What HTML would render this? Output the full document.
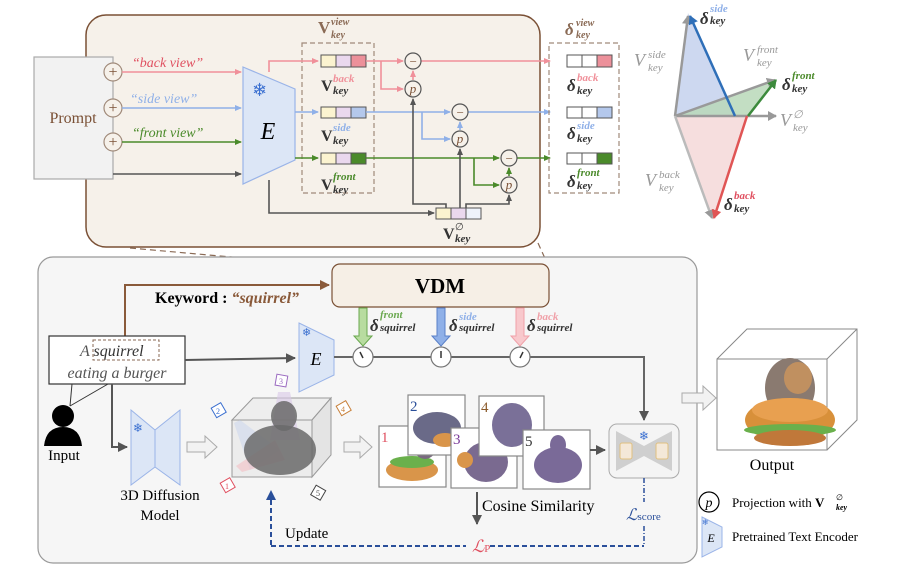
<!DOCTYPE html>
<html><head><meta charset="utf-8"><style>
html,body{margin:0;padding:0;background:#fff;}
svg{display:block;font-family:"Liberation Serif",serif;}
</style></head><body>
<svg width="897" height="570" viewBox="0 0 897 570" xmlns="http://www.w3.org/2000/svg">
<defs>
<marker id="ap" markerWidth="8" markerHeight="8" refX="6" refY="4" orient="auto" markerUnits="userSpaceOnUse"><path d="M0,1 L7,4 L0,7 z" fill="#f0909a"/></marker>
<marker id="ab" markerWidth="8" markerHeight="8" refX="6" refY="4" orient="auto" markerUnits="userSpaceOnUse"><path d="M0,1 L7,4 L0,7 z" fill="#8fb0e8"/></marker>
<marker id="ag" markerWidth="8" markerHeight="8" refX="6" refY="4" orient="auto" markerUnits="userSpaceOnUse"><path d="M0,1 L7,4 L0,7 z" fill="#4a8a2a"/></marker>
<marker id="ad" markerWidth="8" markerHeight="8" refX="6" refY="4" orient="auto" markerUnits="userSpaceOnUse"><path d="M0,1 L7,4 L0,7 z" fill="#555"/></marker>
<marker id="adb" markerWidth="12" markerHeight="12" refX="9" refY="6" orient="auto" markerUnits="userSpaceOnUse"><path d="M0,1 L10,6 L0,11 z" fill="#555"/></marker>
<marker id="abr" markerWidth="12" markerHeight="12" refX="9" refY="6" orient="auto" markerUnits="userSpaceOnUse"><path d="M0,1 L10,6 L0,11 z" fill="#8a5a3a"/></marker>
<marker id="anv" markerWidth="12" markerHeight="12" refX="9" refY="6" orient="auto" markerUnits="userSpaceOnUse"><path d="M0,1 L10,6 L0,11 z" fill="#2a4f9a"/></marker>
<marker id="tg" markerWidth="10" markerHeight="10" refX="8" refY="5" orient="auto" markerUnits="userSpaceOnUse"><path d="M0,0 L9,5 L0,10 z" fill="#999"/></marker>
<marker id="tb" markerWidth="10" markerHeight="10" refX="8" refY="5" orient="auto" markerUnits="userSpaceOnUse"><path d="M0,0 L9,5 L0,10 z" fill="#2f6fb8"/></marker>
<marker id="tgr" markerWidth="10" markerHeight="10" refX="8" refY="5" orient="auto" markerUnits="userSpaceOnUse"><path d="M0,0 L9,5 L0,10 z" fill="#3c8a3c"/></marker>
<marker id="tr" markerWidth="10" markerHeight="10" refX="8" refY="5" orient="auto" markerUnits="userSpaceOnUse"><path d="M0,0 L9,5 L0,10 z" fill="#e05555"/></marker>
</defs>

<rect x="86" y="15" width="454" height="232" rx="20" fill="#f6f1ea" stroke="#7a5035" stroke-width="1.5"/>
<line x1="130" y1="248" x2="332" y2="266" stroke="#8a6a55" stroke-dasharray="6,4" stroke-width="1.2"/>
<line x1="538" y1="243" x2="548" y2="265" stroke="#8a6a55" stroke-dasharray="6,4" stroke-width="1.2"/>

<rect x="34" y="57" width="79" height="122" fill="#f2f2f2" stroke="#aaa" stroke-width="1.2"/>
<text x="73" y="123" font-size="16" fill="#7a5035" text-anchor="middle">Prompt</text>
<g fill="#f6f1ea" stroke="#a08a7a" stroke-width="1.2">
<circle cx="113" cy="72" r="9"/><circle cx="113" cy="108" r="9"/><circle cx="113" cy="142" r="9"/></g>
<g fill="#7a5035" font-size="16" text-anchor="middle"><text x="113" y="77">+</text><text x="113" y="113">+</text><text x="113" y="147">+</text></g>

<line x1="122" y1="72" x2="241" y2="72" stroke="#f0909a" stroke-width="1.6" marker-end="url(#ap)"/>
<line x1="122" y1="108" x2="241" y2="108" stroke="#8fb0e8" stroke-width="1.6" marker-end="url(#ab)"/>
<line x1="122" y1="142" x2="241" y2="142" stroke="#4a8a2a" stroke-width="1.6" marker-end="url(#ag)"/>
<line x1="113" y1="174" x2="241" y2="174" stroke="#555" stroke-width="1.6" marker-end="url(#ad)"/>
<g font-size="14" font-style="italic">
<text x="132" y="67" fill="#e05060">“back view”</text>
<text x="130" y="103" fill="#8fb0e8">“side view”</text>
<text x="132" y="137" fill="#4a8a2a">“front view”</text></g>

<path d="M243,67 L295,89 L295,160 L243,184 z" fill="#dce6f6" stroke="#9ab4e8" stroke-width="1.2"/>
<text x="252" y="96" font-size="18" fill="#3a6fd0" font-family="DejaVu Sans,sans-serif">❄</text>
<text x="268" y="139" font-size="24" font-style="italic" text-anchor="middle">E</text>

<rect x="302" y="43" width="72" height="150" fill="none" stroke="#a08a7a" stroke-dasharray="5,3" stroke-width="1.2"/>
<text x="318" y="33" font-size="17" font-weight="bold" fill="#8a6a55">V</text>
<text x="331" y="25" font-size="10" font-weight="bold" font-style="italic" fill="#8a6a55">view</text>
<text x="331" y="38" font-size="10" font-weight="bold" font-style="italic" fill="#8a6a55">key</text>

<polyline points="269,72 269,61 318,61" fill="none" stroke="#f0909a" stroke-width="1.6" marker-end="url(#ap)"/>
<line x1="295" y1="112" x2="318" y2="112" stroke="#8fb0e8" stroke-width="1.6" marker-end="url(#ab)"/>
<line x1="295" y1="158" x2="318" y2="158" stroke="#4a8a2a" stroke-width="1.6" marker-end="url(#ag)"/>

<g stroke="#555" stroke-width="1">
<rect x="321" y="55" width="15" height="12" fill="#fbf3d0"/><rect x="336" y="55" width="15" height="12" fill="#ead8ee"/><rect x="351" y="55" width="15" height="12" fill="#ec909a"/>
<rect x="321" y="107" width="15" height="11" fill="#fbf3d0"/><rect x="336" y="107" width="15" height="11" fill="#ead8ee"/><rect x="351" y="107" width="15" height="11" fill="#b4c8ec"/>
<rect x="321" y="153" width="15" height="11" fill="#fbf3d0"/><rect x="336" y="153" width="15" height="11" fill="#ead8ee"/><rect x="351" y="153" width="15" height="11" fill="#4a8a2a"/>
</g>
<g font-weight="bold">
<text x="321" y="91" font-size="16" fill="#333">V</text><text x="333" y="82" font-size="11" font-style="italic" fill="#f0909a">back</text><text x="333" y="94" font-size="11" font-style="italic" fill="#333">key</text>
<text x="321" y="141" font-size="16" fill="#333">V</text><text x="333" y="131" font-size="11" font-style="italic" fill="#8fb0e8">side</text><text x="333" y="144" font-size="11" font-style="italic" fill="#333">key</text>
<text x="321" y="190" font-size="16" fill="#333">V</text><text x="333" y="180" font-size="11" font-style="italic" fill="#4a8a2a">front</text><text x="333" y="193" font-size="11" font-style="italic" fill="#333">key</text>
</g>

<line x1="366" y1="61" x2="403" y2="61" stroke="#f0909a" stroke-width="1.6" marker-end="url(#ap)"/>
<polyline points="381,61 381,89 403,89" fill="none" stroke="#f0909a" stroke-width="1.6" marker-end="url(#ap)"/>
<line x1="413" y1="80" x2="413" y2="71" stroke="#f0909a" stroke-width="1.6" marker-end="url(#ap)"/>
<line x1="421" y1="61" x2="550" y2="61" stroke="#f0909a" stroke-width="1.6" marker-end="url(#ap)"/>

<line x1="366" y1="112" x2="450" y2="112" stroke="#8fb0e8" stroke-width="1.6" marker-end="url(#ab)"/>
<polyline points="422,112 422,139 450,139" fill="none" stroke="#8fb0e8" stroke-width="1.6" marker-end="url(#ab)"/>
<line x1="460" y1="130" x2="460" y2="122" stroke="#8fb0e8" stroke-width="1.6" marker-end="url(#ab)"/>
<line x1="468" y1="112" x2="550" y2="112" stroke="#8fb0e8" stroke-width="1.6" marker-end="url(#ab)"/>

<line x1="366" y1="158" x2="499" y2="158" stroke="#4a8a2a" stroke-width="1.6" marker-end="url(#ag)"/>
<polyline points="474,158 474,185 499,185" fill="none" stroke="#4a8a2a" stroke-width="1.6" marker-end="url(#ag)"/>
<line x1="509" y1="176" x2="509" y2="168" stroke="#4a8a2a" stroke-width="1.6" marker-end="url(#ag)"/>
<line x1="517" y1="158" x2="550" y2="158" stroke="#4a8a2a" stroke-width="1.6" marker-end="url(#ag)"/>

<polyline points="269,180 269,213 434,213" fill="none" stroke="#555" stroke-width="1.6" marker-end="url(#ad)"/>
<polyline points="446,208 446,204 413,204 413,99" fill="none" stroke="#555" stroke-width="1.6" marker-end="url(#ad)"/>
<line x1="460" y1="208" x2="460" y2="149" stroke="#555" stroke-width="1.6" marker-end="url(#ad)"/>
<polyline points="466,208 466,204 509,204 509,195" fill="none" stroke="#555" stroke-width="1.6" marker-end="url(#ad)"/>

<g fill="#f6f1ea" stroke="#555" stroke-width="1.2">
<circle cx="413" cy="61" r="8"/><circle cx="413" cy="89" r="8"/>
<circle cx="460" cy="112" r="8"/><circle cx="460" cy="139" r="8"/>
<circle cx="509" cy="158" r="8"/><circle cx="509" cy="185" r="8"/></g>
<g fill="#7a5035" font-size="13" text-anchor="middle" font-style="italic">
<text x="413" y="66">−</text><text x="413" y="93">p</text>
<text x="460" y="117">−</text><text x="460" y="143">p</text>
<text x="509" y="163">−</text><text x="509" y="189">p</text></g>

<g stroke="#555" stroke-width="1">
<rect x="436" y="208" width="15" height="11" fill="#fbf3d0"/><rect x="451" y="208" width="15" height="11" fill="#ead8ee"/><rect x="466" y="208" width="15" height="11" fill="#eef2fa"/></g>
<text x="443" y="239" font-size="16" font-weight="bold" fill="#333">V</text><text x="455" y="230" font-size="10" fill="#333">∅</text><text x="455" y="242" font-size="11" font-weight="bold" font-style="italic" fill="#333">key</text>

<rect x="549" y="43" width="70" height="150" fill="none" stroke="#a08a7a" stroke-dasharray="5,3" stroke-width="1.2"/>
<text x="565" y="35" font-size="17" font-weight="bold" font-style="italic" fill="#8a6a55">δ</text>
<text x="576" y="26" font-size="10" font-weight="bold" font-style="italic" fill="#8a6a55">view</text>
<text x="576" y="38" font-size="10" font-weight="bold" font-style="italic" fill="#8a6a55">key</text>
<g stroke="#555" stroke-width="1">
<rect x="567" y="55" width="15" height="12" fill="#fff"/><rect x="582" y="55" width="15" height="12" fill="#fff"/><rect x="597" y="55" width="15" height="12" fill="#ec909a"/>
<rect x="567" y="107" width="15" height="11" fill="#fff"/><rect x="582" y="107" width="15" height="11" fill="#fff"/><rect x="597" y="107" width="15" height="11" fill="#b4c8ec"/>
<rect x="567" y="153" width="15" height="11" fill="#fff"/><rect x="582" y="153" width="15" height="11" fill="#fff"/><rect x="597" y="153" width="15" height="11" fill="#4a8a2a"/></g>
<g font-weight="bold">
<text x="567" y="91" font-size="17" font-style="italic" fill="#333">δ</text><text x="577" y="81" font-size="11" font-style="italic" fill="#f0909a">back</text><text x="577" y="94" font-size="11" font-style="italic" fill="#333">key</text>
<text x="567" y="139" font-size="17" font-style="italic" fill="#333">δ</text><text x="577" y="129" font-size="11" font-style="italic" fill="#8fb0e8">side</text><text x="577" y="142" font-size="11" font-style="italic" fill="#333">key</text>
<text x="567" y="187" font-size="17" font-style="italic" fill="#333">δ</text><text x="577" y="176" font-size="11" font-style="italic" fill="#4a8a2a">front</text><text x="577" y="189" font-size="11" font-style="italic" fill="#333">key</text>
</g>

<polygon points="675,116 688,13 735,116" fill="#c8d4ee" opacity="0.9"/>
<polygon points="675,116 777,79 748,116" fill="#b8d8b8" opacity="0.85"/>
<polygon points="675,116 713,220 747,116" fill="#f6dede"/>
<line x1="675" y1="116" x2="688" y2="16" stroke="#999" stroke-width="2.5" marker-end="url(#tg)"/>
<line x1="675" y1="116" x2="775" y2="80" stroke="#999" stroke-width="2.5" marker-end="url(#tg)"/>
<line x1="675" y1="116" x2="776" y2="116" stroke="#999" stroke-width="2.5" marker-end="url(#tg)"/>
<line x1="675" y1="116" x2="712" y2="218" stroke="#bbb" stroke-width="2.5" marker-end="url(#tg)"/>
<line x1="735" y1="116" x2="690" y2="16" stroke="#2f6fb8" stroke-width="2.5" marker-end="url(#tb)"/>
<line x1="748" y1="116" x2="776" y2="80" stroke="#3c8a3c" stroke-width="2.5" marker-end="url(#tgr)"/>
<line x1="747" y1="116" x2="714" y2="218" stroke="#e05555" stroke-width="2.5" marker-end="url(#tr)"/>
<g font-weight="bold">
<text x="700" y="24" font-size="17" font-style="italic" fill="#333">δ</text><text x="710" y="12" font-size="11" font-style="italic" fill="#8fb0e8">side</text><text x="710" y="24" font-size="11" font-style="italic" fill="#333">key</text>
<text x="782" y="90" font-size="17" font-style="italic" fill="#333">δ</text><text x="792" y="79" font-size="11" font-style="italic" fill="#4a8a2a">front</text><text x="792" y="92" font-size="11" font-style="italic" fill="#333">key</text>
<text x="724" y="210" font-size="17" font-style="italic" fill="#333">δ</text><text x="734" y="199" font-size="11" font-style="italic" fill="#e05060">back</text><text x="734" y="212" font-size="11" font-style="italic" fill="#333">key</text>
</g>
<g fill="#999" font-style="italic">
<text x="634" y="66" font-size="18">V</text><text x="648" y="58" font-size="11">side</text><text x="648" y="71" font-size="11">key</text>
<text x="743" y="61" font-size="18">V</text><text x="757" y="53" font-size="11">front</text><text x="757" y="66" font-size="11">key</text>
<text x="780" y="126" font-size="18">V</text><text x="793" y="118" font-size="11">∅</text><text x="793" y="131" font-size="11">key</text>
<text x="645" y="186" font-size="18">V</text><text x="659" y="178" font-size="11">back</text><text x="659" y="191" font-size="11">key</text>
</g>

<rect x="38" y="257" width="659" height="306" rx="15" fill="#f6f6f6" stroke="#999" stroke-width="1.2"/>
<rect x="332" y="264" width="217" height="43" rx="8" fill="#f6efe6" stroke="#7a5035" stroke-width="1.2"/>
<text x="440" y="293" font-size="21" font-weight="bold" text-anchor="middle">VDM</text>

<polyline points="125,337 125,285 329,285" fill="none" stroke="#8a5a3a" stroke-width="2" marker-end="url(#abr)"/>
<text x="155" y="303" font-size="16" font-weight="bold">Keyword : <tspan font-style="italic" fill="#8a5a3a">“squirrel”</tspan></text>

<g>
<path d="M359,308 L367,308 L367,336 L372,336 L363,346 L354,336 L359,336z" fill="#b8dca0" stroke="#6aa84f"/>
<path d="M437,308 L445,308 L445,336 L450,336 L441,346 L432,336 L437,336z" fill="#8fb0e8" stroke="#5a80c8"/>
<path d="M516,308 L524,308 L524,336 L529,336 L520,346 L511,336 L516,336z" fill="#f8c8cc" stroke="#f0a0a8"/>
</g>
<g font-weight="bold">
<text x="370" y="331" font-size="17" font-style="italic" fill="#333">δ</text><text x="380" y="318" font-size="11" font-style="italic" fill="#6aa84f">front</text><text x="380" y="331" font-size="11" font-style="italic" fill="#333">squirrel</text>
<text x="449" y="331" font-size="17" font-style="italic" fill="#333">δ</text><text x="459" y="320" font-size="11" font-style="italic" fill="#8fb0e8">side</text><text x="459" y="331" font-size="11" font-style="italic" fill="#333">squirrel</text>
<text x="527" y="331" font-size="17" font-style="italic" fill="#333">δ</text><text x="537" y="320" font-size="11" font-style="italic" fill="#f0a0a8">back</text><text x="537" y="331" font-size="11" font-style="italic" fill="#333">squirrel</text>
</g>

<rect x="49" y="336" width="136" height="48" fill="#fff" stroke="#333" stroke-width="1.2"/>
<rect x="93" y="340" width="66" height="20" fill="none" stroke="#8a6a55" stroke-dasharray="3,2"/>
<text x="80" y="356" font-size="16" font-style="italic" fill="#555">A <tspan fill="#333">squirrel</tspan></text>
<text x="117" y="378" font-size="16" font-style="italic" fill="#555" text-anchor="middle">eating a burger</text>
<polyline points="72,384 70,406" stroke="#333" fill="none"/>
<line x1="108" y1="384" x2="70" y2="406" stroke="#333"/>
<circle cx="63" cy="416" r="11" fill="#000"/>
<path d="M44,446 Q46,427 63,427 Q80,427 82,446 z" fill="#000"/>
<text x="64" y="460" font-size="15" text-anchor="middle">Input</text>

<line x1="185" y1="360" x2="295" y2="358" stroke="#555" stroke-width="2" marker-end="url(#adb)"/>
<path d="M299,323 L334,340 L334,375 L299,392 z" fill="#dce6f6" stroke="#9ab4e8"/>
<text x="302" y="336" font-size="11" fill="#3a6fd0" font-family="DejaVu Sans,sans-serif">❄</text>
<text x="316" y="365" font-size="18" font-style="italic" text-anchor="middle">E</text>
<polyline points="334,357 644,357 644,420" fill="none" stroke="#666" stroke-width="2" marker-end="url(#adb)"/>
<g fill="#fff" stroke="#777" stroke-width="1.2">
<circle cx="363" cy="357" r="10"/><circle cx="441" cy="357" r="10"/><circle cx="520" cy="357" r="10"/></g>
<g stroke="#333" stroke-width="1.5"><line x1="363" y1="358" x2="360" y2="352"/><line x1="441" y1="358" x2="441" y2="351"/><line x1="520" y1="358" x2="523" y2="352"/></g>

<polyline points="112,384 112,447 127,447" fill="none" stroke="#555" stroke-width="2" marker-end="url(#adb)"/>
<path d="M131,410 L155,430 L155,467 L131,485 z" fill="#dce6f6" stroke="#9ab4e8"/>
<path d="M180,410 L155,430 L155,467 L180,485 z" fill="#dce6f6" stroke="#9ab4e8"/>
<text x="133" y="432" font-size="12" fill="#3a6fd0" font-family="DejaVu Sans,sans-serif">❄</text>
<text x="160" y="500" font-size="15" text-anchor="middle">3D Diffusion</text>
<text x="160" y="520" font-size="15" text-anchor="middle">Model</text>

<path d="M187,442 L205,442 L205,436 L217,447 L205,458 L205,452 L187,452z" fill="#f2f2f2" stroke="#aaa"/>
<path d="M344,442 L360,442 L360,436 L372,447 L360,458 L360,452 L344,452z" fill="#f2f2f2" stroke="#aaa"/>

<g stroke="#999" fill="none" stroke-width="1">
<rect x="253" y="398" width="78" height="57" stroke-dasharray="3,2" stroke="#ccc"/>
<polygon points="232,420 253,398 331,398 312,420" fill="#eeeeee"/>
<polygon points="312,420 331,398 331,455 312,477" fill="#e4e4e4"/>
<rect x="232" y="420" width="80" height="57" fill="#ececec"/></g>
<polygon points="278,392 290,392 300,440 270,440" fill="#d8c8e8" opacity="0.6"/>
<polygon points="234,423 240,420 280,450 250,470" fill="#c8d4ee" opacity="0.5"/>
<polygon points="242,472 236,466 275,440 285,460" fill="#f4c0c4" opacity="0.6"/>
<ellipse cx="280" cy="450" rx="36" ry="25" fill="#6a6a6a" opacity="0.85"/>
<ellipse cx="284" cy="416" rx="13" ry="15" fill="#6a6a6a" opacity="0.85"/>
<g font-size="8" text-anchor="middle" stroke-width="1" fill="#fff">
<rect x="276" y="375" width="11" height="11" stroke="#9a6ac0" transform="rotate(10 281 380)"/><text x="281" y="384" fill="#9a6ac0" stroke="none">3</text>
<rect x="213" y="405" width="11" height="11" stroke="#3a6fd0" transform="rotate(-30 218 410)"/><text x="218" y="414" fill="#3a6fd0" stroke="none">2</text>
<rect x="338" y="403" width="11" height="11" stroke="#c8803a" transform="rotate(-30 343 408)"/><text x="343" y="412" fill="#c8803a" stroke="none">4</text>
<rect x="222" y="480" width="11" height="11" stroke="#e05060" transform="rotate(-30 227 485)"/><text x="227" y="489" fill="#e05060" stroke="none">1</text>
<rect x="313" y="487" width="11" height="11" stroke="#444" transform="rotate(30 318 492)"/><text x="318" y="496" fill="#444" stroke="none">5</text>
</g>
<line x1="271" y1="545" x2="271" y2="491" stroke="#2a4f9a" stroke-width="2" stroke-dasharray="5,3" marker-end="url(#anv)"/>

<g stroke="#888" stroke-width="1.2">
<rect x="379" y="426" width="67" height="61" fill="#fff"/>
<ellipse cx="412" cy="470" rx="26" ry="11" fill="#d9954a" stroke="none"/><ellipse cx="412" cy="462" rx="22" ry="6" fill="#6ab04c" stroke="none"/><ellipse cx="425" cy="445" rx="12" ry="14" fill="#7a6a80" stroke="none"/>
<rect x="408" y="395" width="57" height="60" fill="#fff"/>
<ellipse cx="437" cy="428" rx="24" ry="16" fill="#6a6a88" stroke="none"/><ellipse cx="445" cy="440" rx="12" ry="7" fill="#d9954a" stroke="none"/>
<rect x="451" y="428" width="66" height="60" fill="#fff"/>
<ellipse cx="486" cy="462" rx="22" ry="20" fill="#7a6a90" stroke="none"/><ellipse cx="465" cy="460" rx="8" ry="8" fill="#d9954a" stroke="none"/>
<rect x="479" y="396" width="65" height="60" fill="#fff"/>
<ellipse cx="512" cy="425" rx="20" ry="22" fill="#7a7098" stroke="none"/>
<rect x="523" y="430" width="67" height="59" fill="#fff"/>
<ellipse cx="558" cy="465" rx="24" ry="18" fill="#7a6a98" stroke="none"/><ellipse cx="558" cy="445" rx="8" ry="10" fill="#7a6a98" stroke="none"/>
</g>
<g font-size="15"><text x="381" y="442" fill="#e05060">1</text><text x="410" y="411" fill="#2a4f9a">2</text><text x="453" y="444" fill="#7a3a9a">3</text><text x="481" y="412" fill="#8a5a2a">4</text><text x="525" y="446" fill="#333">5</text></g>
<line x1="590" y1="450" x2="605" y2="450" stroke="#555" stroke-width="2" marker-end="url(#adb)"/>

<rect x="609" y="424" width="70" height="54" rx="8" fill="#f4f4f4" stroke="#aaa"/>
<path d="M616,431 L644,446 L644,456 L616,471z" fill="#cfcfcf"/><path d="M672,431 L644,446 L644,456 L672,471z" fill="#cfcfcf"/>
<rect x="620" y="443" width="12" height="16" rx="2" fill="#f4e8d8" stroke="#e0c080"/><rect x="656" y="443" width="12" height="16" rx="2" fill="#f4e8d8" stroke="#e0c080"/>
<text x="644" y="440" font-size="12" fill="#3a6fd0" text-anchor="middle" font-family="DejaVu Sans,sans-serif">❄</text>

<line x1="477" y1="492" x2="477" y2="524" stroke="#555" stroke-width="2" marker-end="url(#adb)"/>
<text x="482" y="511" font-size="16">Cosine Similarity</text>
<text x="472" y="552" font-size="17" font-style="italic" fill="#e05060">ℒ<tspan font-size="11" font-style="normal">P</tspan></text>
<text x="626" y="520" font-size="16" font-style="italic" fill="#2a4f9a">ℒ<tspan font-size="11" font-style="normal">score</tspan></text>
<line x1="644" y1="478" x2="644" y2="502" stroke="#2a4f9a" stroke-width="1.5" stroke-dasharray="5,2,1,2"/>
<line x1="644" y1="526" x2="644" y2="546" stroke="#2a4f9a" stroke-width="1.5" stroke-dasharray="5,2,1,2"/>
<polyline points="271,546 466,546" fill="none" stroke="#2a4f9a" stroke-width="2" stroke-dasharray="5,3"/>
<polyline points="490,546 644,546" fill="none" stroke="#2a4f9a" stroke-width="2" stroke-dasharray="5,3"/>
<text x="285" y="538" font-size="15">Update</text>

<path d="M682,393 L703,393 L703,386 L716,398 L703,410 L703,403 L682,403z" fill="#f2f2f2" stroke="#aaa"/>
<g stroke="#888" fill="none" stroke-width="1">
<polyline points="717,359 747,329 857,329 857,420 827,450"/><line x1="827" y1="359" x2="857" y2="329"/>
<rect x="717" y="359" width="110" height="91"/></g>
<ellipse cx="790" cy="388" rx="25" ry="30" fill="#8a7a70"/>
<ellipse cx="798" cy="378" rx="14" ry="16" fill="#c09060"/>
<ellipse cx="790" cy="420" rx="45" ry="22" fill="#d8903a"/>
<ellipse cx="790" cy="430" rx="46" ry="6" fill="#6ab04c"/>
<ellipse cx="790" cy="438" rx="36" ry="8" fill="#c0783a"/>
<ellipse cx="790" cy="410" rx="38" ry="12" fill="#e8a050"/>
<text x="772" y="470" font-size="16" text-anchor="middle">Output</text>

<circle cx="709" cy="502" r="10" fill="#fff" stroke="#000" stroke-width="1.2"/>
<text x="709" y="507" font-size="14" font-style="italic" text-anchor="middle">p</text>
<text x="732" y="507" font-size="13">Projection with <tspan font-weight="bold">V</tspan></text>
<text x="836" y="500" font-size="8">∅</text><text x="836" y="510" font-size="8" font-weight="bold" font-style="italic">key</text>
<path d="M702,517 L722,527 L722,547 L702,557 z" fill="#dce6f6" stroke="#9ab4e8"/>
<text x="702" y="525" font-size="8" fill="#3a6fd0" font-family="DejaVu Sans,sans-serif">❄</text>
<text x="711" y="542" font-size="12" font-style="italic" text-anchor="middle">E</text>
<text x="732" y="541" font-size="13">Pretrained Text Encoder</text>
</svg>
</body></html>
